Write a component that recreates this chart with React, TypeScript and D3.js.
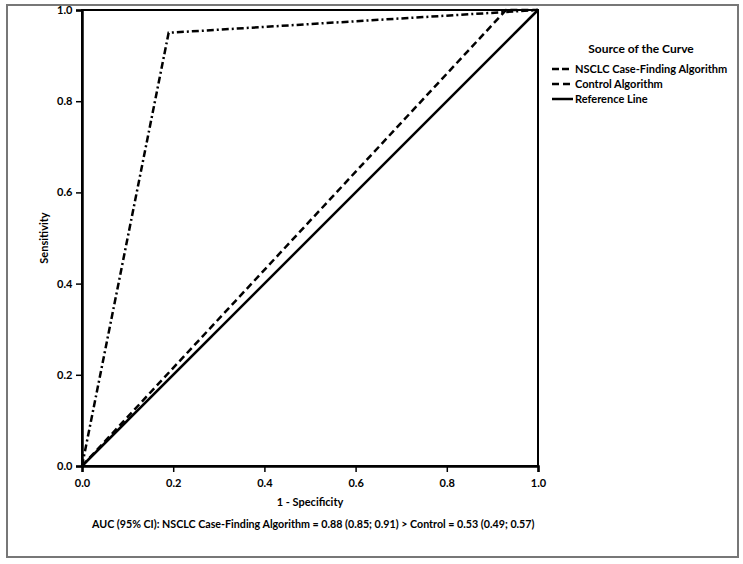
import React, { useEffect, useRef } from 'react';
import * as d3 from 'd3';

// ROC points: [1 - specificity, sensitivity]
const nsclcCurve: [number, number][] = [[0, 0], [0.005, 0.025], [0.19, 0.95], [1, 1]];
const controlCurve: [number, number][] = [[0, 0], [0.93, 1], [1, 1]];
const referenceLine: [number, number][] = [[0, 0], [1, 1]];

const tickValues = [0, 0.2, 0.4, 0.6, 0.8, 1.0];
const legendLabels = ['NSCLC Case-Finding Algorithm', 'Control Algorithm', 'Reference Line'];
const legendDashes = ['7,3,2,3', '7,4', 'none'];
const aucText = 'AUC (95% CI): NSCLC Case-Finding Algorithm = 0.88 (0.85; 0.91) > Control = 0.53 (0.49; 0.57)';

const FONT = 'Lato, "Open Sans", sans-serif';

const App: React.FC = () => {
  const svgRef = useRef<SVGSVGElement>(null);

  useEffect(() => {
    if (!svgRef.current) return;
    const svg = d3.select(svgRef.current);
    svg.selectAll('*').remove();

    const width = 743;
    const height = 564;
    const plot = { left: 82, right: 538, top: 10, bottom: 466 };

    // Outer frame
    svg.append('rect')
      .attr('x', 7).attr('y', 5)
      .attr('width', 731).attr('height', 552)
      .attr('fill', 'white')
      .attr('stroke', '#777')
      .attr('stroke-width', 2);

    const x = d3.scaleLinear().domain([0, 1]).range([plot.left, plot.right]);
    const y = d3.scaleLinear().domain([0, 1]).range([plot.bottom, plot.top]);

    // Plot frame
    svg.append('rect')
      .attr('x', plot.left).attr('y', plot.top)
      .attr('width', plot.right - plot.left)
      .attr('height', plot.bottom - plot.top)
      .attr('fill', 'none')
      .attr('stroke', '#000')
      .attr('stroke-width', 2);

    // Axes
    const xAxis = d3.axisBottom(x).tickValues(tickValues).tickSize(6).tickFormat(d3.format('.1f'));
    const yAxis = d3.axisLeft(y).tickValues(tickValues).tickSize(6).tickFormat(d3.format('.1f'));

    const gx = svg.append('g').attr('transform', `translate(0,${plot.bottom})`).call(xAxis);
    const gy = svg.append('g').attr('transform', `translate(${plot.left},0)`).call(yAxis);
    [gx, gy].forEach(g => {
      g.select('.domain').attr('stroke', '#000').attr('stroke-width', 2.5);
      g.selectAll('.tick line').attr('stroke', '#000').attr('stroke-width', 1.5);
      g.selectAll('.tick text')
        .attr('fill', '#000')
        .attr('font-family', FONT)
        .attr('font-weight', 'bold')
        .attr('font-size', 11);
    });
    gx.selectAll('.tick text').attr('dy', '1.1em');
    gy.selectAll('.tick text').attr('dx', '-0.05em');

    // Axis titles
    svg.append('text')
      .attr('x', 310).attr('y', 506)
      .attr('text-anchor', 'middle')
      .attr('font-family', FONT).attr('font-weight', 'bold').attr('font-size', 11)
      .text('1 - Specificity');

    svg.append('text')
      .attr('transform', `translate(48,${(plot.top + plot.bottom) / 2}) rotate(-90)`)
      .attr('text-anchor', 'middle')
      .attr('font-family', FONT).attr('font-weight', 'bold').attr('font-size', 11)
      .text('Sensitivity');

    // Curves
    const line = d3.line<[number, number]>().x(d => x(d[0])).y(d => y(d[1]));
    const curves = [nsclcCurve, controlCurve, referenceLine];
    curves.forEach((c, i) => {
      svg.append('path')
        .datum(c)
        .attr('fill', 'none')
        .attr('stroke', '#000')
        .attr('stroke-width', 2.5)
        .attr('stroke-dasharray', legendDashes[i])
        .attr('d', line);
    });

    // Legend
    svg.append('text')
      .attr('x', 641).attr('y', 53)
      .attr('text-anchor', 'middle')
      .attr('font-family', FONT).attr('font-weight', 'bold').attr('font-size', 12)
      .text('Source of the Curve');

    const legend = svg.append('g');
    legendLabels.forEach((label, i) => {
      const ly = 69 + i * 15;
      legend.append('line')
        .attr('x1', 552).attr('x2', i === 0 ? 569 : 573)
        .attr('y1', ly).attr('y2', ly)
        .attr('stroke', '#000')
        .attr('stroke-width', 2.5)
        .attr('stroke-dasharray', i === 0 ? '7,3' : legendDashes[i]);
      legend.append('text')
        .attr('x', 575).attr('y', ly + 4)
        .attr('font-family', FONT).attr('font-weight', 'bold').attr('font-size', 11)
        .text(label);
    });

    // AUC note
    svg.append('text')
      .attr('x', 92).attr('y', 528)
      .attr('font-family', FONT).attr('font-weight', 'bold').attr('font-size', 10.7)
      .text(aucText);

    svg.attr('width', width).attr('height', height);
  }, []);

  return (
    <svg
      ref={svgRef}
      width={743}
      height={564}
      style={{ position: 'absolute', left: 0, top: 0, background: 'white' }}
    />
  );
};

export default App;
